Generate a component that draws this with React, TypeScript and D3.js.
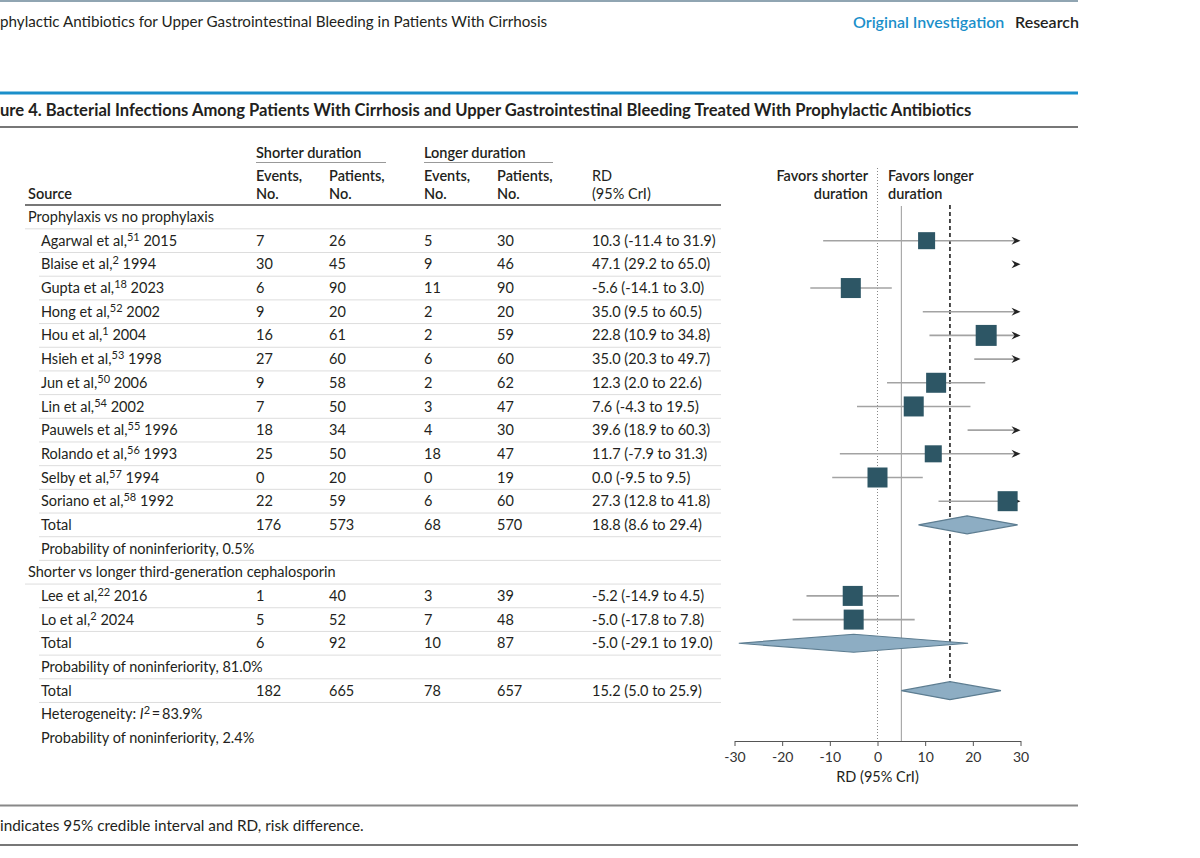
import React, { useEffect, useRef } from "react";
import * as d3 from "d3";

// ---- data ----
type Kind = "group" | "study" | "total" | "note";

const rowKinds: Kind[] = [
  "group",
  "study", "study", "study", "study", "study", "study",
  "study", "study", "study", "study", "study", "study",
  "total", "note",
  "group",
  "study", "study", "total", "note",
  "total", "note", "note",
];

const rowLabels: string[] = [
  "Prophylaxis vs no prophylaxis",
  "Agarwal et al,", "Blaise et al,", "Gupta et al,", "Hong et al,", "Hou et al,", "Hsieh et al,",
  "Jun et al,", "Lin et al,", "Pauwels et al,", "Rolando et al,", "Selby et al,", "Soriano et al,",
  "Total", "Probability of noninferiority, 0.5%",
  "Shorter vs longer third-generation cephalosporin",
  "Lee et al,", "Lo et al,", "Total", "Probability of noninferiority, 81.0%",
  "Total", "Heterogeneity:", "Probability of noninferiority, 2.4%",
];
const refNumbers: (string | null)[] = [
  null, "51", "2", "18", "52", "1", "53", "50", "54", "55", "56", "57", "58",
  null, null, null, "22", "2", null, null, null, null, null,
];
const studyYears: (string | null)[] = [
  null, "2015", "1994", "2023", "2002", "2004", "1998", "2006", "2002", "1996", "1993", "1994", "1992",
  null, null, null, "2016", "2024", null, null, null, null, null,
];

const shortEvents: (number | null)[] = [null, 7, 30, 6, 9, 16, 27, 9, 7, 18, 25, 0, 22, 176, null, null, 1, 5, 6, null, 182, null, null];
const shortPatients: (number | null)[] = [null, 26, 45, 90, 20, 61, 60, 58, 50, 34, 50, 20, 59, 573, null, null, 40, 52, 92, null, 665, null, null];
const longEvents: (number | null)[] = [null, 5, 9, 11, 2, 2, 6, 2, 3, 4, 18, 0, 6, 68, null, null, 3, 7, 10, null, 78, null, null];
const longPatients: (number | null)[] = [null, 30, 46, 90, 20, 59, 60, 62, 47, 30, 47, 19, 60, 570, null, null, 39, 48, 87, null, 657, null, null];
const rdEst: (number | null)[] = [null, 10.3, 47.1, -5.6, 35.0, 22.8, 35.0, 12.3, 7.6, 39.6, 11.7, 0.0, 27.3, 18.8, null, null, -5.2, -5.0, -5.0, null, 15.2, null, null];
const rdLow: (number | null)[] = [null, -11.4, 29.2, -14.1, 9.5, 10.9, 20.3, 2.0, -4.3, 18.9, -7.9, -9.5, 12.8, 8.6, null, null, -14.9, -17.8, -29.1, null, 5.0, null, null];
const rdHigh: (number | null)[] = [null, 31.9, 65.0, 3.0, 60.5, 34.8, 49.7, 22.6, 19.5, 60.3, 31.3, 9.5, 41.8, 29.4, null, null, 4.5, 7.8, 19.0, null, 25.9, null, null];
// relative study weights (square area)
const studyWeight: (number | null)[] = [null, 5.8, 8, 8, 8, 8.8, 8, 8, 8, 8, 5.8, 8, 8, null, null, null, 8, 8, null, null, null, null, null];

const axisTicks = [-30, -20, -10, 0, 10, 20, 30];
const nullEffect = 0;
const margin = 5;
const pooledEffect = 15.2;

const FONT = "Lato, 'Liberation Sans', sans-serif";
const INK = "#231f20";

const App: React.FC = () => {
  const axisRef = useRef<SVGGElement | null>(null);

  const x = d3.scaleLinear().domain([-30, 30]).range([734.5, 1020.5]);
  const y = d3.scaleLinear().domain([0, rowKinds.length - 1]).range([217, 738]);
  const size = d3.scaleSqrt().domain([0, 8]).range([0, 20]);
  const rowStep = y(1) - y(0);

  const cols = { source: 28, indent: 41, se: 256, sp: 329, le: 424, lp: 497, rd: 592 };
  const tableRight = 721;
  const plotTop = 205;
  const axisY = 741;

  useEffect(() => {
    if (!axisRef.current) return;
    const g = d3.select(axisRef.current);
    g.selectAll("*").remove();
    g.call(
      d3.axisBottom(x)
        .tickValues(axisTicks)
        .tickSize(5)
        .tickSizeOuter(0)
        .tickPadding(6)
        .tickFormat((d) => String(d))
    );
    g.select(".domain").attr("stroke", "#555");
    g.selectAll(".tick line").attr("stroke", "#555");
    g.selectAll(".tick text")
      .attr("font-family", FONT)
      .attr("font-size", 14)
      .attr("fill", "#333");
  }, []);

  const fmt = (v: number) => v.toFixed(1);

  const diamond = (lo: number, est: number, hi: number, cy: number) =>
    `M${x(lo)},${cy} L${x(est)},${cy - 9} L${x(hi)},${cy} L${x(est)},${cy + 9} Z`;

  const arrowHead = (tx: number, cy: number) =>
    `M${tx},${cy} L${tx - 9},${cy - 4} L${tx - 6},${cy} L${tx - 9},${cy + 4} Z`;

  const dashedBottom = y(20) - 9;

  return (
    <svg
      width={1200}
      height={858}
      style={{ position: "absolute", left: 0, top: 0, background: "#fff" }}
      fontFamily={FONT}
    >
      {/* page running header */}
      <line x1={0} x2={1078} y1={1} y2={1} stroke="#6b8799" strokeWidth={1.5} />
      <text x={0} y={22} dy="0.35em" fontSize={15.2} fill={INK}>
        phylactic Antibiotics for Upper Gastrointestinal Bleeding in Patients With Cirrhosis
      </text>
      <text x={853} y={22} dy="0.35em" fontSize={16} fill="#1b8fca" fontWeight={600}>
        Original Investigation
      </text>
      <text x={1015} y={22} dy="0.35em" fontSize={16} fill={INK} fontWeight={600}>
        Research
      </text>

      {/* figure title */}
      <line x1={0} x2={1078} y1={93} y2={93} stroke="#1b8fca" strokeWidth={3} />
      <text x={0} y={110} dy="0.35em" fontSize={16.6} fontWeight={700} fill={INK}>
        ure 4. Bacterial Infections Among Patients With Cirrhosis and Upper Gastrointestinal Bleeding Treated With Prophylactic Antibiotics
      </text>
      <line x1={0} x2={1078} y1={127} y2={127} stroke="#777" strokeWidth={2} />

      {/* table header */}
      <g fontSize={14.5} fill={INK} fontWeight={600}>
        <text x={cols.se} y={153} dy="0.35em">Shorter duration</text>
        <line x1={cols.se} x2={386} y1={162.5} y2={162.5} stroke="#999" />
        <text x={cols.le} y={153} dy="0.35em">Longer duration</text>
        <line x1={cols.le} x2={553} y1={162.5} y2={162.5} stroke="#999" />
        <text x={cols.source} y={194} dy="0.35em">Source</text>
        {[cols.se, cols.le].map((cx) => (
          <g key={"ev" + cx}>
            <text x={cx} y={176} dy="0.35em">Events,</text>
            <text x={cx} y={194} dy="0.35em">No.</text>
          </g>
        ))}
        {[cols.sp, cols.lp].map((cx) => (
          <g key={"pt" + cx}>
            <text x={cx} y={176} dy="0.35em">Patients,</text>
            <text x={cx} y={194} dy="0.35em">No.</text>
          </g>
        ))}
        <text x={cols.rd} y={176} dy="0.35em" fontWeight={400}>RD</text>
        <text x={cols.rd} y={194} dy="0.35em" fontWeight={400}>(95% CrI)</text>
        <text x={868} y={176} dy="0.35em" textAnchor="end">Favors shorter</text>
        <text x={868} y={194} dy="0.35em" textAnchor="end">duration</text>
        <text x={888} y={176} dy="0.35em">Favors longer</text>
        <text x={888} y={194} dy="0.35em">duration</text>
      </g>
      <line x1={25} x2={tableRight} y1={plotTop} y2={plotTop} stroke="#777" strokeWidth={2} />

      {/* row separators */}
      {rowKinds.map((k, i) =>
        i < 21 ? (
          <line
            key={"sep" + i}
            x1={k === "group" ? 25 : 39}
            x2={tableRight}
            y1={y(i) + rowStep / 2}
            y2={y(i) + rowStep / 2}
            stroke="#ddd"
            strokeWidth={1}
          />
        ) : null
      )}

      {/* table rows */}
      <g fontSize={14.5} fill={INK}>
        {rowKinds.map((k, i) => {
          const cy = y(i);
          const lx = k === "group" ? cols.source : cols.indent;
          const label =
            rowLabels[i] === "Heterogeneity:" ? (
              <text x={lx} y={cy} dy="0.35em">
                Heterogeneity: <tspan fontStyle="italic">I</tspan>
                <tspan dy={-5} fontSize={11}>2</tspan>
                <tspan dy={5}>{"\u2009=\u200983.9%"}</tspan>
              </text>
            ) : refNumbers[i] ? (
              <text x={lx} y={cy} dy="0.35em">
                {rowLabels[i]}
                <tspan dy={-5} fontSize={11}>{refNumbers[i]}</tspan>
                <tspan dy={5}>{" " + studyYears[i]}</tspan>
              </text>
            ) : (
              <text x={lx} y={cy} dy="0.35em">{rowLabels[i]}</text>
            );
          return (
            <g key={"row" + i}>
              {label}
              {shortEvents[i] !== null && (
                <>
                  <text x={cols.se} y={cy} dy="0.35em">{shortEvents[i]}</text>
                  <text x={cols.sp} y={cy} dy="0.35em">{shortPatients[i]}</text>
                  <text x={cols.le} y={cy} dy="0.35em">{longEvents[i]}</text>
                  <text x={cols.lp} y={cy} dy="0.35em">{longPatients[i]}</text>
                  <text x={cols.rd} y={cy} dy="0.35em">
                    {`${fmt(rdEst[i]!)} (${fmt(rdLow[i]!)} to ${fmt(rdHigh[i]!)})`}
                  </text>
                </>
              )}
            </g>
          );
        })}
      </g>

      {/* reference lines */}
      <line x1={x(nullEffect)} x2={x(nullEffect)} y1={168} y2={axisY} stroke="#888" strokeWidth={1} strokeDasharray="1,2" />
      <line x1={x(margin)} x2={x(margin)} y1={plotTop + 1} y2={axisY} stroke="#999" strokeWidth={1} />
      <line x1={x(pooledEffect)} x2={x(pooledEffect)} y1={plotTop} y2={dashedBottom} stroke="#111" strokeWidth={1.5} strokeDasharray="4,3" />

      {/* study estimates */}
      {rowKinds.map((k, i) => {
        if (k !== "study") return null;
        const cy = y(i);
        const lo = Math.max(rdLow[i]!, -30);
        const hi = Math.min(rdHigh[i]!, 30);
        const clippedRight = rdHigh[i]! > 30;
        const est = rdEst[i]!;
        const s = size(studyWeight[i]!);
        return (
          <g key={"est" + i}>
            <line x1={x(lo)} x2={x(hi) - (clippedRight ? 6 : 0)} y1={cy} y2={cy} stroke="#a3a3a3" strokeWidth={1.6} />
            {clippedRight && <path d={arrowHead(x(30), cy)} fill="#222" />}
            {est <= 30 && est >= -30 && (
              <rect x={x(est) - s / 2} y={cy - s / 2} width={s} height={s} fill="#2d5665" />
            )}
          </g>
        );
      })}

      {/* pooled estimates */}
      {rowKinds.map((k, i) =>
        k === "total" ? (
          <path
            key={"dia" + i}
            d={diamond(rdLow[i]!, rdEst[i]!, rdHigh[i]!, y(i))}
            fill="#8dadc3"
            stroke="#5d7d91"
            strokeWidth={1.2}
          />
        ) : null
      )}

      {/* axis */}
      <g ref={axisRef} transform={`translate(0,${axisY})`} />
      <text x={x(0)} y={777} dy="0.35em" textAnchor="middle" fontSize={14.5} fill={INK}>
        RD (95% CrI)
      </text>

      {/* footnote */}
      <line x1={0} x2={1078} y1={805.5} y2={805.5} stroke="#888" strokeWidth={2} />
      <text x={0} y={826} dy="0.35em" fontSize={15.3} fill={INK}>
        indicates 95% credible interval and RD, risk difference.
      </text>
      <line x1={0} x2={1078} y1={845} y2={845} stroke="#777" strokeWidth={2} />
    </svg>
  );
};

export default App;
